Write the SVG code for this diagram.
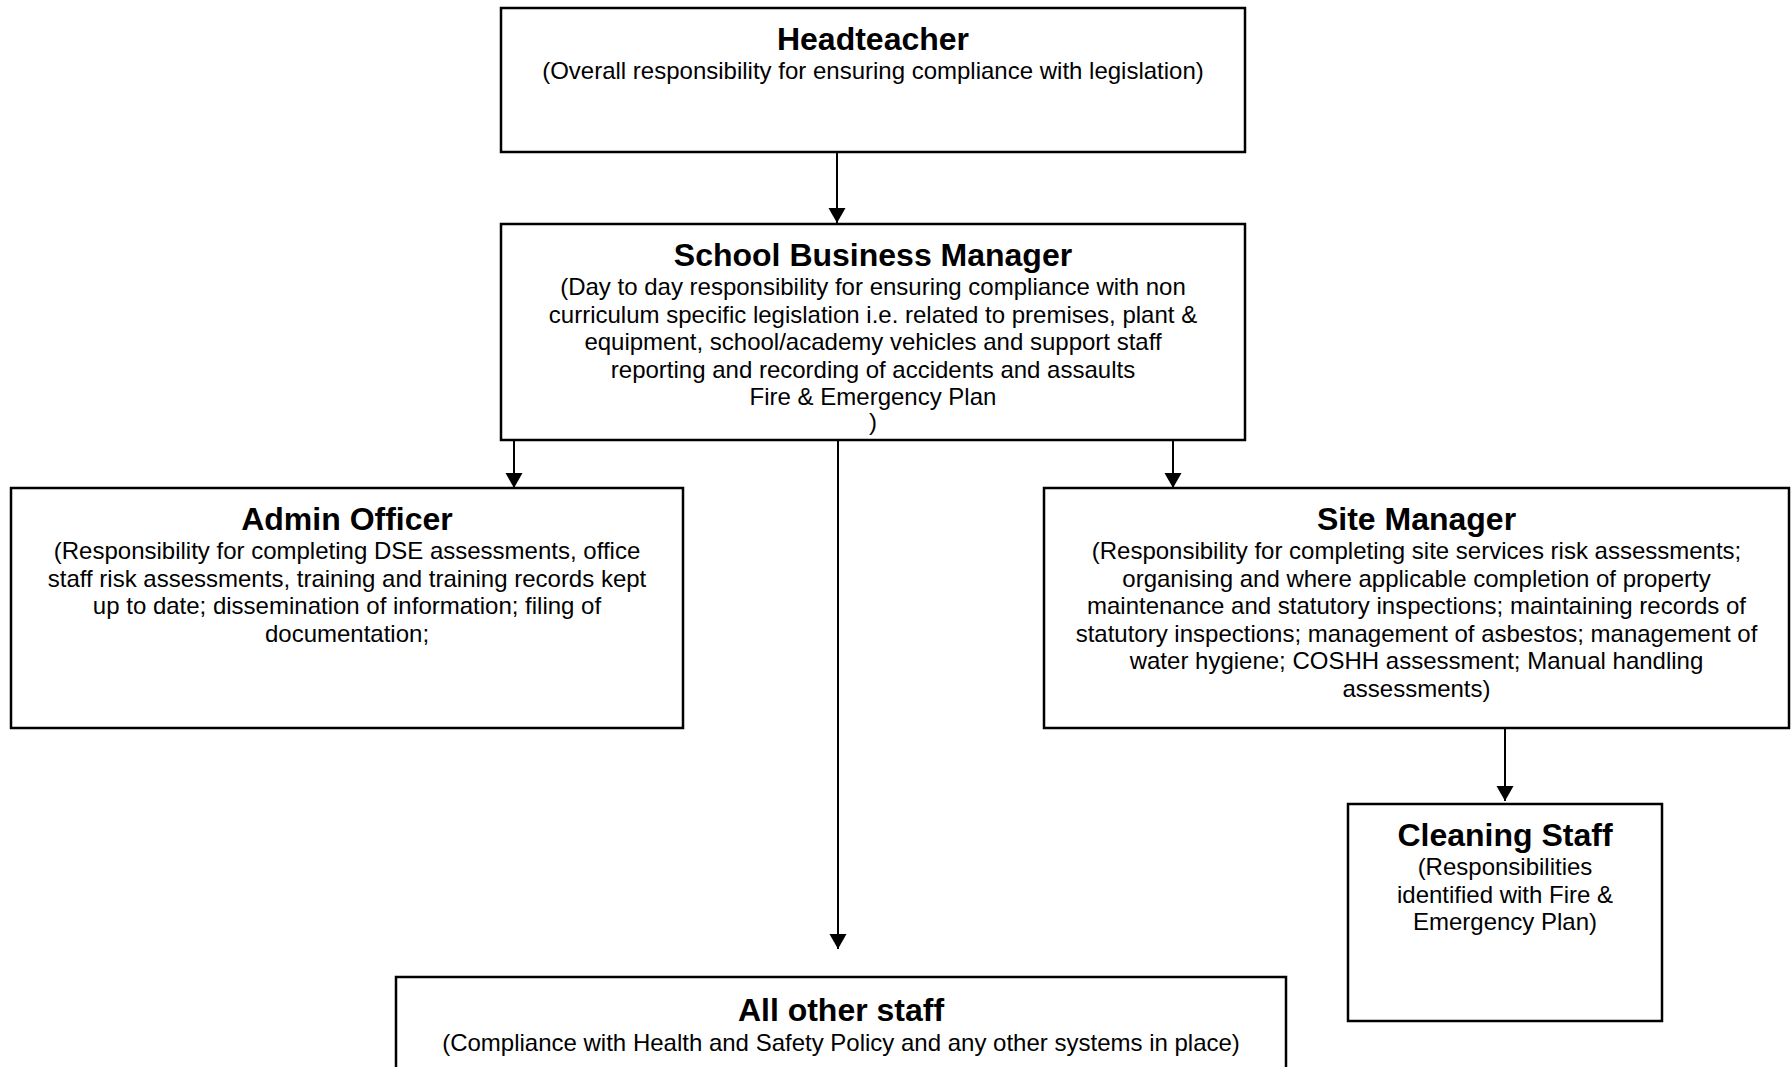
<svg xmlns="http://www.w3.org/2000/svg" width="1791" height="1067" viewBox="0 0 1791 1067">
  <defs>
    <style>
      .box { fill: #ffffff; stroke: #000000; stroke-width: 2.5; }
      .title { font-family: "Liberation Sans", Arial, sans-serif; font-size: 32px; font-weight: bold; fill: #000000; text-anchor: middle; }
      .sub { font-family: "Liberation Sans", Arial, sans-serif; font-size: 24px; fill: #000000; text-anchor: middle; }
      .conn { fill: none; stroke: #000000; stroke-width: 2; marker-end: url(#arrow); }
    </style>
    <marker id="arrow" markerUnits="userSpaceOnUse" markerWidth="16" markerHeight="18" refX="15" refY="8.5" orient="auto">
      <path d="M0,0 L15,8.5 L0,17 Z" fill="#000000"/>
    </marker>
  </defs>
  <rect x="0" y="0" width="1791" height="1067" fill="#ffffff"/>

  <g id="connectors">
    <line class="conn" x1="837" y1="152" x2="837" y2="223"/>
    <line class="conn" x1="514" y1="440" x2="514" y2="488"/>
    <line class="conn" x1="1173" y1="440" x2="1173" y2="488"/>
    <line class="conn" x1="838" y1="440" x2="838" y2="949"/>
    <line class="conn" x1="1505" y1="728" x2="1505" y2="801"/>
  </g>

  <g id="headteacher">
    <rect class="box" x="501" y="8" width="744" height="144"/>
    <text class="title" x="873" y="50">Headteacher</text>
    <text class="sub" x="873" y="79">(Overall responsibility for ensuring compliance with legislation)</text>
  </g>

  <g id="school-business-manager">
    <rect class="box" x="501" y="224" width="744" height="216"/>
    <text class="title" x="873" y="266">School Business Manager</text>
    <text class="sub" x="873" y="295">(Day to day responsibility for ensuring compliance with non</text>
    <text class="sub" x="873" y="322.5">curriculum specific legislation i.e. related to premises, plant &amp;</text>
    <text class="sub" x="873" y="350">equipment, school/academy vehicles and support staff</text>
    <text class="sub" x="873" y="377.5">reporting and recording of accidents and assaults</text>
    <text class="sub" x="873" y="405">Fire &amp; Emergency Plan</text>
    <text class="sub" x="873" y="430">)</text>
  </g>

  <g id="admin-officer">
    <rect class="box" x="11" y="488" width="672" height="240"/>
    <text class="title" x="347" y="530">Admin Officer</text>
    <text class="sub" x="347" y="559">(Responsibility for completing DSE assessments, office</text>
    <text class="sub" x="347" y="586.5">staff risk assessments, training and training records kept</text>
    <text class="sub" x="347" y="614">up to date; dissemination of information; filing of</text>
    <text class="sub" x="347" y="641.5">documentation;</text>
  </g>

  <g id="site-manager">
    <rect class="box" x="1044" y="488" width="745" height="240"/>
    <text class="title" x="1416.5" y="530">Site Manager</text>
    <text class="sub" x="1416.5" y="559">(Responsibility for completing site services risk assessments;</text>
    <text class="sub" x="1416.5" y="586.5">organising and where applicable completion of property</text>
    <text class="sub" x="1416.5" y="614">maintenance and statutory inspections; maintaining records of</text>
    <text class="sub" x="1416.5" y="641.5">statutory inspections; management of asbestos; management of</text>
    <text class="sub" x="1416.5" y="669">water hygiene; COSHH assessment; Manual handling</text>
    <text class="sub" x="1416.5" y="696.5">assessments)</text>
  </g>

  <g id="cleaning-staff">
    <rect class="box" x="1348" y="804" width="314" height="217"/>
    <text class="title" x="1505" y="846">Cleaning Staff</text>
    <text class="sub" x="1505" y="875">(Responsibilities</text>
    <text class="sub" x="1505" y="902.5">identified with Fire &amp;</text>
    <text class="sub" x="1505" y="930">Emergency Plan)</text>
  </g>

  <g id="all-other-staff">
    <rect class="box" x="396" y="977" width="890" height="130"/>
    <text class="title" x="841" y="1021">All other staff</text>
    <text class="sub" x="841" y="1051">(Compliance with Health and Safety Policy and any other systems in place)</text>
  </g>
</svg>
